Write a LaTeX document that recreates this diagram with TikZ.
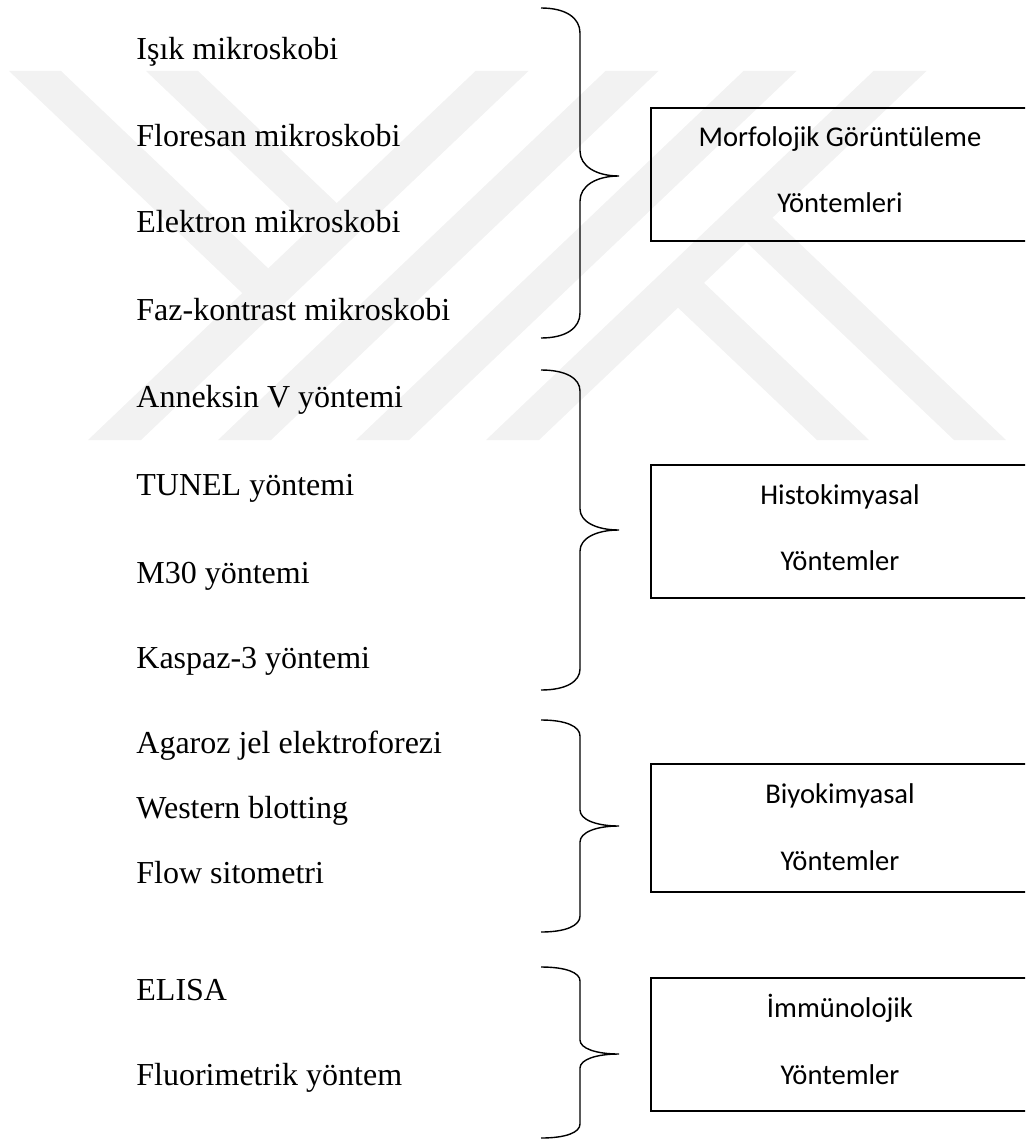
\documentclass[tikz,border=0pt]{standalone}
\usepackage{fontspec}
\usepackage{tikz}
\newfontfamily\itemfont{Liberation Serif}
\newfontfamily\boxfont{Carlito}
\definecolor{logogray}{gray}{0.95}

\tikzset{
  item/.style={anchor=base west, inner sep=0pt, font=\itemfont\fontsize{16}{19}\selectfont},
  boxlabel/.style={anchor=base, inner sep=0pt, font=\boxfont\fontsize{14.3}{17}\selectfont},
  methodbox/.style={draw, line width=0.8pt, minimum width=189pt, minimum height=#1, inner sep=0pt},
  bracepen/.style={line width=0.7pt},
  logo/.style={fill=logogray}
}

% top, tip, bottom, bend
\newcommand{\methodbrace}[4]{%
  \draw[bracepen] (541,#1) .. controls (566,#1) and (580,{#1+0.4*#4}) .. (580,{#1+#4})
    -- (580,{#2-#4}) .. controls (580,{#2-0.4*#4}) and (596,#2) .. (619,#2)
    .. controls (596,#2) and (580,{#2+0.4*#4}) .. (580,{#2+#4})
    -- (580,{#3-#4}) .. controls (580,{#3-0.4*#4}) and (566,#3) .. (541,#3);}

\begin{document}
\begin{tikzpicture}[x=0.5pt,y=-0.5pt]
\clip (0,0) rectangle (1025,1139);

% watermark
\foreach \a in {88,218,356,486}
    \fill[logo] (\a,440) -- ++(53,0) -- ++(387.5,-369) -- ++(-53,0) -- cycle;
\fill[logo] (9,71) -- (61,71) -- (281.5,281) -- (255.5,305.7) -- cycle;
\fill[logo] (146,71) -- (198,71) -- (350,215.7) -- (324,240.5) -- cycle;
\fill[logo] (1006,440) -- (954,440) -- (733.5,230) -- (759.5,205.3) -- cycle;
\fill[logo] (869,440) -- (817,440) -- (665,295.3) -- (691,270.5) -- cycle;

\foreach \name/\yy/\txt in {isik/60/Işık mikroskobi, floresan/147/Floresan mikroskobi,
    elektron/233/Elektron mikroskobi, faz/320/Faz-kontrast mikroskobi,
    anneksin/407/Anneksin V yöntemi, tunel/495/TUNEL yöntemi, motuz/583/M30 yöntemi,
    kaspaz/668/Kaspaz-3 yöntemi, agaroz/753/Agaroz jel elektroforezi,
    western/818/Western blotting, flow/883/Flow sitometri,
    elisa/1000/ELISA, fluori/1085/Fluorimetrik yöntem}
    \node[item] (\name) at (136,\yy) {\txt};

\methodbrace{8}{176}{338}{25}
\methodbrace{370}{530}{690}{21}
\methodbrace{720}{826}{932}{16}
\methodbrace{967}{1054}{1138}{14}

\node[methodbox=66.5pt] (morf) at (840,174.5) {};
\node[boxlabel] (morf1) at (840,147) {Morfolojik Görüntüleme};
\node[boxlabel] (morf2) at (840,213) {Yöntemleri};

\node[methodbox=66.5pt] (histo) at (840,531.5) {};
\node[boxlabel] (histo1) at (840,504) {Histokimyasal};
\node[boxlabel] (histo2) at (840,570) {Yöntemler};

\node[methodbox=64pt] (biyo) at (840,828) {};
\node[boxlabel] (biyo1) at (840,803) {Biyokimyasal};
\node[boxlabel] (biyo2) at (840,870) {Yöntemler};

\node[methodbox=66.5pt] (immun) at (840,1044.5) {};
\node[boxlabel] (immun1) at (840,1017) {İmmünolojik};
\node[boxlabel] (immun2) at (840,1084) {Yöntemler};

\end{tikzpicture}
\end{document}
